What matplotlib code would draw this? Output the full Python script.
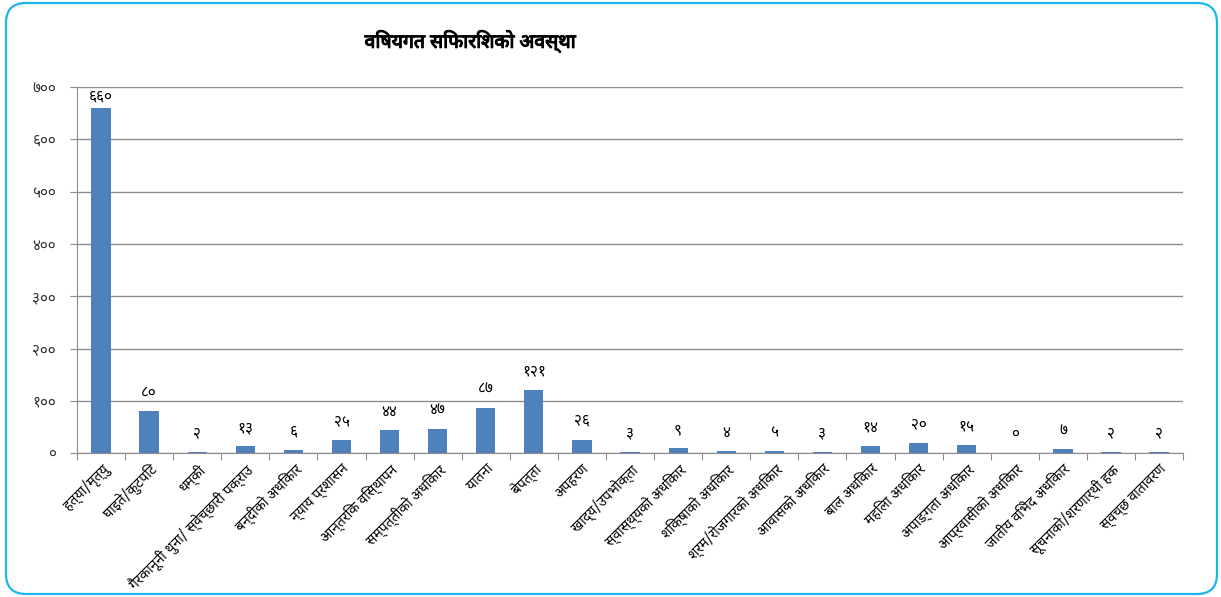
import matplotlib
matplotlib.use("Agg")
import matplotlib.pyplot as plt
import matplotlib.patheffects as pe
from matplotlib.patches import FancyBboxPatch
from matplotlib.ticker import FuncFormatter

categories = ["हत्या/मृत्यु", "घाइते/कुटपिट", "धम्की", "गैरकानूनी थुना/ स्वेच्छारी पक्राउ",
              "बन्दीको अधिकार", "न्याय प्रशासन", "आन्तरिक विस्थापन", "सम्पत्तीको अधिकार",
              "यातना", "बेपत्ता", "अपहरण", "खाद्य/उपभोक्ता", "स्वास्थ्यको अधिकार",
              "शिक्षाको अधिकार", "श्रम/रोजगारको अधिकार", "आवासको अधिकार", "बाल अधिकार",
              "महिला अधिकार", "अपाङ्गता अधिकार", "आप्रवासीको अधिकार", "जातीय विभेद अधिकार",
              "सूचनाको/शरणार्थी हक", "स्वच्छ वातावरण"]
values = [660, 80, 2, 13, 6, 25, 44, 47, 87, 121, 26, 3, 9, 4, 5, 3, 14, 20, 15, 0, 7, 2, 2]
title = "विषयगत सिफारिशको अवस्था"

fonts = ["Noto Sans Devanagari", "Hind", "Mukta", "DejaVu Sans"]
plt.rcParams["font.family"] = fonts

deva = str.maketrans("0123456789", "०१२३४५६७८९")


def to_deva(n):
    return str(int(n)).translate(deva)


fig = plt.figure(figsize=(12.21, 5.97), dpi=100)
# rounded frame, in pixels
fig.patches.append(FancyBboxPatch((6, 3), 1211, 591, boxstyle="round,pad=0,rounding_size=20",
                                  transform=None, facecolor="white", edgecolor="#1EB4F0",
                                  linewidth=1.6, zorder=-1))

ax = fig.add_axes([0.063, 0.241, 0.906, 0.613])
x = range(len(categories))
ax.bar(x, values, width=0.40, color="#4F81BD", zorder=3)
for i, v in enumerate(values):
    # labels sit above the bar, kept under the top gridline
    ax.text(i, min(v + 20, 667), to_deva(v), ha="center", va="bottom", fontsize=11)

ax.set_xlim(-0.5, len(categories) - 0.5)
ax.set_ylim(0, 700)
ax.set_yticks(range(0, 701, 100))
ax.yaxis.set_major_formatter(FuncFormatter(lambda v, p: to_deva(v)))
ax.grid(axis="y", color="#8c8c8c", linewidth=1, zorder=0)
ax.set_xticks([i + 0.5 for i in range(-1, len(categories))])
ax.set_xticklabels([])
ax.set_xticks(list(x), minor=True)
ax.set_xticklabels(categories, minor=True, rotation=45, ha="right", rotation_mode="anchor", fontsize=10)
ax.tick_params(axis="x", which="minor", length=0, pad=6)
ax.tick_params(axis="x", which="major", length=5, color="#8c8c8c")
ax.tick_params(axis="y", length=5, color="#8c8c8c", labelsize=11, labelcolor="#333333", pad=10)
for s in ["top", "right"]:
    ax.spines[s].set_visible(False)
ax.spines["left"].set_color("#8c8c8c")
ax.spines["bottom"].set_color("#8c8c8c")

fig.text(0.385, 0.93, title, ha="center", va="center", fontsize=14, fontweight="bold",
         path_effects=[pe.withStroke(linewidth=0.8, foreground="black")])

fig.savefig("out.png", dpi=100)
